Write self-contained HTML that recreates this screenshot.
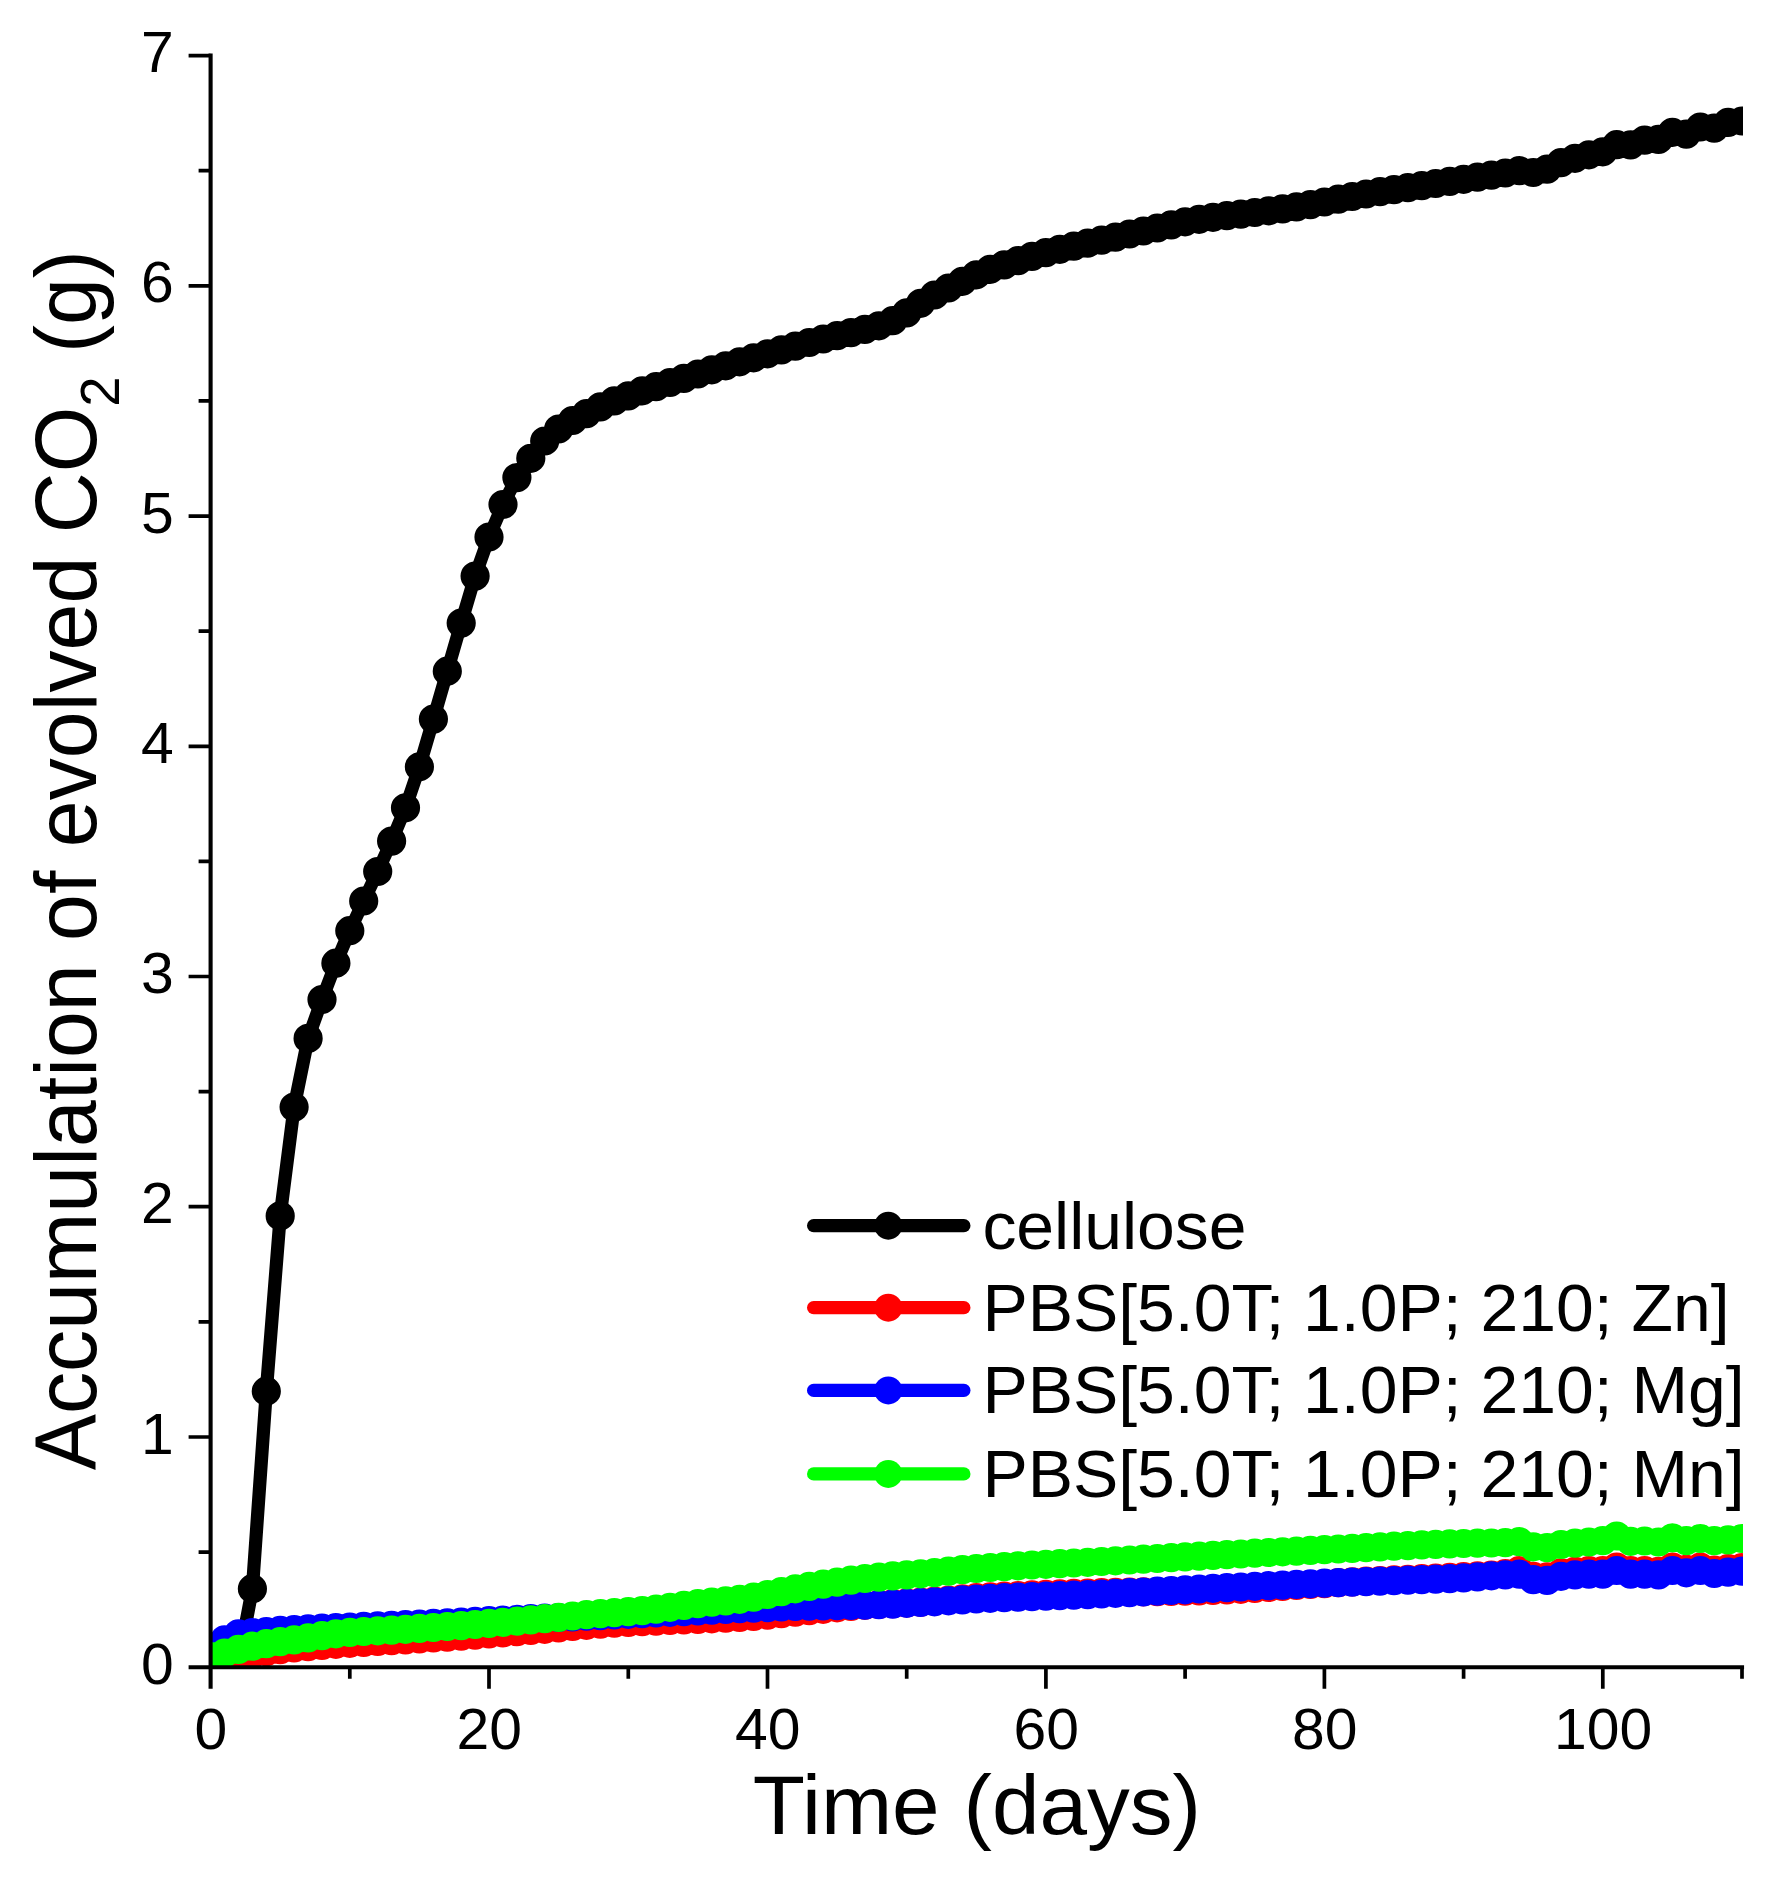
<!DOCTYPE html>
<html><head><meta charset="utf-8"><title>Accumulation of evolved CO2</title>
<style>
html,body{margin:0;padding:0;background:#fff;}
body{width:1773px;height:1896px;overflow:hidden;}
svg{display:block;font-family:"Liberation Sans",Arial,sans-serif;fill:#000;}
.tick{font-size:57.3px;}
.title{font-size:83.5px;}
.ytitle{font-size:84.3px;}
.leg{font-size:66.5px;}
</style></head><body>
<svg width="1773" height="1896" viewBox="0 0 1773 1896">
<rect width="1773" height="1896" fill="#fff"/>
<defs><clipPath id="clip"><rect x="210.6" y="40" width="1532.4" height="1627.2"/></clipPath></defs>
<g clip-path="url(#clip)">
<path d="M210.6 1667.2 L224.5 1667.2 L238.4 1662.6 L252.4 1588.7 L266.3 1391.2 L280.2 1215.9 L294.1 1107.1 L308.1 1038.4 L322.0 999.5 L335.9 963.2 L349.8 930.7 L363.7 901.0 L377.7 871.5 L391.6 841.1 L405.5 807.8 L419.4 766.8 L433.4 719.1 L447.3 671.2 L461.2 623.1 L475.1 576.1 L489.0 537.0 L503.0 504.5 L516.9 477.6 L530.8 458.3 L544.7 441.0 L558.6 429.0 L572.6 420.5 L586.5 413.6 L600.4 406.9 L614.3 400.9 L628.3 395.9 L642.2 390.8 L656.1 386.7 L670.0 382.5 L683.9 378.4 L697.9 374.0 L711.8 369.8 L725.7 365.8 L739.6 361.8 L753.6 357.8 L767.5 353.8 L781.4 349.9 L795.3 346.2 L809.2 342.5 L823.2 339.0 L837.1 335.6 L851.0 332.6 L864.9 329.4 L878.9 325.8 L892.8 320.7 L906.7 312.9 L920.6 303.3 L934.5 295.0 L948.5 288.0 L962.4 281.3 L976.3 274.8 L990.2 269.3 L1004.2 264.9 L1018.1 260.6 L1032.0 256.4 L1045.9 252.6 L1059.8 249.3 L1073.8 246.1 L1087.7 243.1 L1101.6 240.2 L1115.5 237.1 L1129.5 234.0 L1143.4 231.0 L1157.3 228.0 L1171.2 224.9 L1185.1 221.8 L1199.1 219.3 L1213.0 217.3 L1226.9 215.7 L1240.8 214.2 L1254.8 212.5 L1268.7 210.8 L1282.6 208.9 L1296.5 206.9 L1310.4 204.6 L1324.4 202.0 L1338.3 199.2 L1352.2 196.5 L1366.1 194.0 L1380.0 191.7 L1394.0 189.6 L1407.9 187.6 L1421.8 185.6 L1435.7 183.5 L1449.7 181.4 L1463.6 179.3 L1477.5 177.2 L1491.4 175.1 L1505.3 173.0 L1519.3 170.7 L1533.2 172.5 L1547.1 169.1 L1561.0 162.6 L1575.0 158.3 L1588.9 154.8 L1602.8 151.8 L1616.7 144.7 L1630.6 144.9 L1644.6 140.1 L1658.5 139.4 L1672.4 132.3 L1686.3 134.1 L1700.3 127.0 L1714.2 128.1 L1728.1 122.4 L1742.0 121.0" fill="none" stroke="#000" stroke-width="13.2" stroke-linejoin="round" stroke-linecap="round"/>
<path d="M210.6 1667.2h0M224.5 1667.2h0M238.4 1662.6h0M252.4 1588.7h0M266.3 1391.2h0M280.2 1215.9h0M294.1 1107.1h0M308.1 1038.4h0M322.0 999.5h0M335.9 963.2h0M349.8 930.7h0M363.7 901.0h0M377.7 871.5h0M391.6 841.1h0M405.5 807.8h0M419.4 766.8h0M433.4 719.1h0M447.3 671.2h0M461.2 623.1h0M475.1 576.1h0M489.0 537.0h0M503.0 504.5h0M516.9 477.6h0M530.8 458.3h0M544.7 441.0h0M558.6 429.0h0M572.6 420.5h0M586.5 413.6h0M600.4 406.9h0M614.3 400.9h0M628.3 395.9h0M642.2 390.8h0M656.1 386.7h0M670.0 382.5h0M683.9 378.4h0M697.9 374.0h0M711.8 369.8h0M725.7 365.8h0M739.6 361.8h0M753.6 357.8h0M767.5 353.8h0M781.4 349.9h0M795.3 346.2h0M809.2 342.5h0M823.2 339.0h0M837.1 335.6h0M851.0 332.6h0M864.9 329.4h0M878.9 325.8h0M892.8 320.7h0M906.7 312.9h0M920.6 303.3h0M934.5 295.0h0M948.5 288.0h0M962.4 281.3h0M976.3 274.8h0M990.2 269.3h0M1004.2 264.9h0M1018.1 260.6h0M1032.0 256.4h0M1045.9 252.6h0M1059.8 249.3h0M1073.8 246.1h0M1087.7 243.1h0M1101.6 240.2h0M1115.5 237.1h0M1129.5 234.0h0M1143.4 231.0h0M1157.3 228.0h0M1171.2 224.9h0M1185.1 221.8h0M1199.1 219.3h0M1213.0 217.3h0M1226.9 215.7h0M1240.8 214.2h0M1254.8 212.5h0M1268.7 210.8h0M1282.6 208.9h0M1296.5 206.9h0M1310.4 204.6h0M1324.4 202.0h0M1338.3 199.2h0M1352.2 196.5h0M1366.1 194.0h0M1380.0 191.7h0M1394.0 189.6h0M1407.9 187.6h0M1421.8 185.6h0M1435.7 183.5h0M1449.7 181.4h0M1463.6 179.3h0M1477.5 177.2h0M1491.4 175.1h0M1505.3 173.0h0M1519.3 170.7h0M1533.2 172.5h0M1547.1 169.1h0M1561.0 162.6h0M1575.0 158.3h0M1588.9 154.8h0M1602.8 151.8h0M1616.7 144.7h0M1630.6 144.9h0M1644.6 140.1h0M1658.5 139.4h0M1672.4 132.3h0M1686.3 134.1h0M1700.3 127.0h0M1714.2 128.1h0M1728.1 122.4h0M1742.0 121.0h0" fill="none" stroke="#000" stroke-width="29.2" stroke-linecap="round"/>
<path d="M210.6 1667.2 L224.5 1661.8 L238.4 1657.5 L252.4 1654.2 L266.3 1651.7 L280.2 1649.7 L294.1 1648.0 L308.1 1646.6 L322.0 1645.4 L335.9 1644.3 L349.8 1643.3 L363.7 1642.4 L377.7 1641.5 L391.6 1640.7 L405.5 1639.9 L419.4 1639.0 L433.4 1638.0 L447.3 1637.1 L461.2 1636.1 L475.1 1635.1 L489.0 1634.0 L503.0 1632.9 L516.9 1631.7 L530.8 1630.5 L544.7 1629.3 L558.6 1627.9 L572.6 1626.5 L586.5 1625.3 L600.4 1624.1 L614.3 1623.2 L628.3 1622.5 L642.2 1621.7 L656.1 1621.1 L670.0 1620.5 L683.9 1620.0 L697.9 1619.4 L711.8 1618.8 L725.7 1618.2 L739.6 1617.5 L753.6 1616.5 L767.5 1615.1 L781.4 1613.6 L795.3 1612.1 L809.2 1610.7 L823.2 1609.3 L837.1 1607.8 L851.0 1606.5 L864.9 1605.3 L878.9 1604.4 L892.8 1603.6 L906.7 1602.9 L920.6 1602.1 L934.5 1601.2 L948.5 1600.0 L962.4 1598.8 L976.3 1597.7 L990.2 1596.9 L1004.2 1596.2 L1018.1 1595.5 L1032.0 1594.9 L1045.9 1594.4 L1059.8 1593.9 L1073.8 1593.4 L1087.7 1593.0 L1101.6 1592.6 L1115.5 1592.3 L1129.5 1592.0 L1143.4 1591.8 L1157.3 1591.6 L1171.2 1591.4 L1185.1 1591.1 L1199.1 1590.9 L1213.0 1590.5 L1226.9 1590.0 L1240.8 1589.3 L1254.8 1588.5 L1268.7 1587.5 L1282.6 1586.4 L1296.5 1585.5 L1310.4 1584.5 L1324.4 1583.6 L1338.3 1582.7 L1352.2 1581.9 L1366.1 1581.2 L1380.0 1580.5 L1394.0 1579.9 L1407.9 1579.3 L1421.8 1578.7 L1435.7 1578.0 L1449.7 1577.3 L1463.6 1576.5 L1477.5 1575.8 L1491.4 1575.0 L1505.3 1573.7 L1519.3 1570.7 L1533.2 1576.3 L1547.1 1576.9 L1561.0 1572.8 L1575.0 1571.4 L1588.9 1570.7 L1602.8 1570.7 L1616.7 1567.0 L1630.6 1570.7 L1644.6 1570.7 L1658.5 1571.4 L1672.4 1567.0 L1686.3 1569.4 L1700.3 1567.0 L1714.2 1570.0 L1728.1 1568.7 L1742.0 1567.7" fill="none" stroke="#f00" stroke-width="13.2" stroke-linejoin="round" stroke-linecap="round"/>
<path d="M210.6 1667.2h0M224.5 1661.8h0M238.4 1657.5h0M252.4 1654.2h0M266.3 1651.7h0M280.2 1649.7h0M294.1 1648.0h0M308.1 1646.6h0M322.0 1645.4h0M335.9 1644.3h0M349.8 1643.3h0M363.7 1642.4h0M377.7 1641.5h0M391.6 1640.7h0M405.5 1639.9h0M419.4 1639.0h0M433.4 1638.0h0M447.3 1637.1h0M461.2 1636.1h0M475.1 1635.1h0M489.0 1634.0h0M503.0 1632.9h0M516.9 1631.7h0M530.8 1630.5h0M544.7 1629.3h0M558.6 1627.9h0M572.6 1626.5h0M586.5 1625.3h0M600.4 1624.1h0M614.3 1623.2h0M628.3 1622.5h0M642.2 1621.7h0M656.1 1621.1h0M670.0 1620.5h0M683.9 1620.0h0M697.9 1619.4h0M711.8 1618.8h0M725.7 1618.2h0M739.6 1617.5h0M753.6 1616.5h0M767.5 1615.1h0M781.4 1613.6h0M795.3 1612.1h0M809.2 1610.7h0M823.2 1609.3h0M837.1 1607.8h0M851.0 1606.5h0M864.9 1605.3h0M878.9 1604.4h0M892.8 1603.6h0M906.7 1602.9h0M920.6 1602.1h0M934.5 1601.2h0M948.5 1600.0h0M962.4 1598.8h0M976.3 1597.7h0M990.2 1596.9h0M1004.2 1596.2h0M1018.1 1595.5h0M1032.0 1594.9h0M1045.9 1594.4h0M1059.8 1593.9h0M1073.8 1593.4h0M1087.7 1593.0h0M1101.6 1592.6h0M1115.5 1592.3h0M1129.5 1592.0h0M1143.4 1591.8h0M1157.3 1591.6h0M1171.2 1591.4h0M1185.1 1591.1h0M1199.1 1590.9h0M1213.0 1590.5h0M1226.9 1590.0h0M1240.8 1589.3h0M1254.8 1588.5h0M1268.7 1587.5h0M1282.6 1586.4h0M1296.5 1585.5h0M1310.4 1584.5h0M1324.4 1583.6h0M1338.3 1582.7h0M1352.2 1581.9h0M1366.1 1581.2h0M1380.0 1580.5h0M1394.0 1579.9h0M1407.9 1579.3h0M1421.8 1578.7h0M1435.7 1578.0h0M1449.7 1577.3h0M1463.6 1576.5h0M1477.5 1575.8h0M1491.4 1575.0h0M1505.3 1573.7h0M1519.3 1570.7h0M1533.2 1576.3h0M1547.1 1576.9h0M1561.0 1572.8h0M1575.0 1571.4h0M1588.9 1570.7h0M1602.8 1570.7h0M1616.7 1567.0h0M1630.6 1570.7h0M1644.6 1570.7h0M1658.5 1571.4h0M1672.4 1567.0h0M1686.3 1569.4h0M1700.3 1567.0h0M1714.2 1570.0h0M1728.1 1568.7h0M1742.0 1567.7h0" fill="none" stroke="#f00" stroke-width="29.2" stroke-linecap="round"/>
<path d="M210.6 1647.6 L224.5 1639.8 L238.4 1633.8 L252.4 1632.6 L266.3 1631.6 L280.2 1630.4 L294.1 1629.5 L308.1 1628.8 L322.0 1628.2 L335.9 1627.6 L349.8 1627.0 L363.7 1626.4 L377.7 1625.9 L391.6 1625.3 L405.5 1624.7 L419.4 1624.1 L433.4 1623.4 L447.3 1622.8 L461.2 1622.1 L475.1 1621.4 L489.0 1620.7 L503.0 1620.1 L516.9 1619.4 L530.8 1618.7 L544.7 1618.1 L558.6 1617.5 L572.6 1616.9 L586.5 1616.2 L600.4 1615.6 L614.3 1615.0 L628.3 1614.3 L642.2 1613.7 L656.1 1613.0 L670.0 1612.3 L683.9 1611.6 L697.9 1610.9 L711.8 1610.2 L725.7 1609.4 L739.6 1608.7 L753.6 1608.1 L767.5 1607.6 L781.4 1607.0 L795.3 1606.5 L809.2 1606.2 L823.2 1605.9 L837.1 1605.6 L851.0 1605.4 L864.9 1605.1 L878.9 1604.7 L892.8 1604.1 L906.7 1603.3 L920.6 1602.5 L934.5 1601.8 L948.5 1600.8 L962.4 1599.9 L976.3 1599.0 L990.2 1598.3 L1004.2 1597.7 L1018.1 1597.2 L1032.0 1596.6 L1045.9 1596.1 L1059.8 1595.6 L1073.8 1595.1 L1087.7 1594.6 L1101.6 1594.0 L1115.5 1593.3 L1129.5 1592.7 L1143.4 1592.0 L1157.3 1591.2 L1171.2 1590.5 L1185.1 1589.8 L1199.1 1589.0 L1213.0 1588.3 L1226.9 1587.7 L1240.8 1587.0 L1254.8 1586.3 L1268.7 1585.7 L1282.6 1585.1 L1296.5 1584.4 L1310.4 1583.8 L1324.4 1583.2 L1338.3 1582.6 L1352.2 1582.1 L1366.1 1581.6 L1380.0 1581.1 L1394.0 1580.7 L1407.9 1580.2 L1421.8 1579.7 L1435.7 1579.2 L1449.7 1578.6 L1463.6 1577.9 L1477.5 1576.9 L1491.4 1575.8 L1505.3 1574.9 L1519.3 1574.2 L1533.2 1579.7 L1547.1 1580.4 L1561.0 1576.3 L1575.0 1574.9 L1588.9 1574.2 L1602.8 1574.2 L1616.7 1570.5 L1630.6 1574.2 L1644.6 1574.2 L1658.5 1574.9 L1672.4 1570.5 L1686.3 1572.8 L1700.3 1570.5 L1714.2 1573.5 L1728.1 1572.1 L1742.0 1571.2" fill="none" stroke="#00f" stroke-width="13.2" stroke-linejoin="round" stroke-linecap="round"/>
<path d="M210.6 1647.6h0M224.5 1639.8h0M238.4 1633.8h0M252.4 1632.6h0M266.3 1631.6h0M280.2 1630.4h0M294.1 1629.5h0M308.1 1628.8h0M322.0 1628.2h0M335.9 1627.6h0M349.8 1627.0h0M363.7 1626.4h0M377.7 1625.9h0M391.6 1625.3h0M405.5 1624.7h0M419.4 1624.1h0M433.4 1623.4h0M447.3 1622.8h0M461.2 1622.1h0M475.1 1621.4h0M489.0 1620.7h0M503.0 1620.1h0M516.9 1619.4h0M530.8 1618.7h0M544.7 1618.1h0M558.6 1617.5h0M572.6 1616.9h0M586.5 1616.2h0M600.4 1615.6h0M614.3 1615.0h0M628.3 1614.3h0M642.2 1613.7h0M656.1 1613.0h0M670.0 1612.3h0M683.9 1611.6h0M697.9 1610.9h0M711.8 1610.2h0M725.7 1609.4h0M739.6 1608.7h0M753.6 1608.1h0M767.5 1607.6h0M781.4 1607.0h0M795.3 1606.5h0M809.2 1606.2h0M823.2 1605.9h0M837.1 1605.6h0M851.0 1605.4h0M864.9 1605.1h0M878.9 1604.7h0M892.8 1604.1h0M906.7 1603.3h0M920.6 1602.5h0M934.5 1601.8h0M948.5 1600.8h0M962.4 1599.9h0M976.3 1599.0h0M990.2 1598.3h0M1004.2 1597.7h0M1018.1 1597.2h0M1032.0 1596.6h0M1045.9 1596.1h0M1059.8 1595.6h0M1073.8 1595.1h0M1087.7 1594.6h0M1101.6 1594.0h0M1115.5 1593.3h0M1129.5 1592.7h0M1143.4 1592.0h0M1157.3 1591.2h0M1171.2 1590.5h0M1185.1 1589.8h0M1199.1 1589.0h0M1213.0 1588.3h0M1226.9 1587.7h0M1240.8 1587.0h0M1254.8 1586.3h0M1268.7 1585.7h0M1282.6 1585.1h0M1296.5 1584.4h0M1310.4 1583.8h0M1324.4 1583.2h0M1338.3 1582.6h0M1352.2 1582.1h0M1366.1 1581.6h0M1380.0 1581.1h0M1394.0 1580.7h0M1407.9 1580.2h0M1421.8 1579.7h0M1435.7 1579.2h0M1449.7 1578.6h0M1463.6 1577.9h0M1477.5 1576.9h0M1491.4 1575.8h0M1505.3 1574.9h0M1519.3 1574.2h0M1533.2 1579.7h0M1547.1 1580.4h0M1561.0 1576.3h0M1575.0 1574.9h0M1588.9 1574.2h0M1602.8 1574.2h0M1616.7 1570.5h0M1630.6 1574.2h0M1644.6 1574.2h0M1658.5 1574.9h0M1672.4 1570.5h0M1686.3 1572.8h0M1700.3 1570.5h0M1714.2 1573.5h0M1728.1 1572.1h0M1742.0 1571.2h0" fill="none" stroke="#00f" stroke-width="29.2" stroke-linecap="round"/>
<path d="M210.6 1656.6 L224.5 1653.2 L238.4 1649.4 L252.4 1646.2 L266.3 1643.7 L280.2 1641.7 L294.1 1639.9 L308.1 1637.9 L322.0 1635.7 L335.9 1633.8 L349.8 1632.4 L363.7 1631.5 L377.7 1630.8 L391.6 1630.1 L405.5 1629.3 L419.4 1628.4 L433.4 1627.5 L447.3 1626.5 L461.2 1625.6 L475.1 1624.5 L489.0 1623.4 L503.0 1622.3 L516.9 1621.1 L530.8 1619.9 L544.7 1618.7 L558.6 1617.4 L572.6 1616.0 L586.5 1614.7 L600.4 1613.6 L614.3 1612.6 L628.3 1611.7 L642.2 1610.6 L656.1 1609.1 L670.0 1607.3 L683.9 1605.4 L697.9 1603.7 L711.8 1602.2 L725.7 1600.9 L739.6 1599.3 L753.6 1597.2 L767.5 1594.5 L781.4 1591.7 L795.3 1588.8 L809.2 1586.4 L823.2 1584.2 L837.1 1582.1 L851.0 1580.2 L864.9 1578.5 L878.9 1577.1 L892.8 1575.9 L906.7 1574.9 L920.6 1573.8 L934.5 1572.6 L948.5 1571.2 L962.4 1569.7 L976.3 1568.5 L990.2 1567.5 L1004.2 1566.6 L1018.1 1565.8 L1032.0 1565.0 L1045.9 1564.3 L1059.8 1563.6 L1073.8 1563.0 L1087.7 1562.3 L1101.6 1561.5 L1115.5 1560.8 L1129.5 1560.0 L1143.4 1559.2 L1157.3 1558.5 L1171.2 1557.7 L1185.1 1556.9 L1199.1 1556.2 L1213.0 1555.4 L1226.9 1554.7 L1240.8 1554.0 L1254.8 1553.2 L1268.7 1552.5 L1282.6 1551.8 L1296.5 1551.1 L1310.4 1550.4 L1324.4 1549.7 L1338.3 1549.0 L1352.2 1548.4 L1366.1 1547.7 L1380.0 1546.9 L1394.0 1546.2 L1407.9 1545.6 L1421.8 1544.9 L1435.7 1544.4 L1449.7 1543.9 L1463.6 1543.5 L1477.5 1543.2 L1491.4 1543.0 L1505.3 1542.6 L1519.3 1541.7 L1533.2 1546.8 L1547.1 1547.7 L1561.0 1544.5 L1575.0 1543.1 L1588.9 1542.0 L1602.8 1540.6 L1616.7 1536.0 L1630.6 1541.3 L1644.6 1541.0 L1658.5 1542.0 L1672.4 1537.8 L1686.3 1540.6 L1700.3 1538.5 L1714.2 1540.6 L1728.1 1539.9 L1742.0 1538.5" fill="none" stroke="#0f0" stroke-width="13.2" stroke-linejoin="round" stroke-linecap="round"/>
<path d="M210.6 1656.6h0M224.5 1653.2h0M238.4 1649.4h0M252.4 1646.2h0M266.3 1643.7h0M280.2 1641.7h0M294.1 1639.9h0M308.1 1637.9h0M322.0 1635.7h0M335.9 1633.8h0M349.8 1632.4h0M363.7 1631.5h0M377.7 1630.8h0M391.6 1630.1h0M405.5 1629.3h0M419.4 1628.4h0M433.4 1627.5h0M447.3 1626.5h0M461.2 1625.6h0M475.1 1624.5h0M489.0 1623.4h0M503.0 1622.3h0M516.9 1621.1h0M530.8 1619.9h0M544.7 1618.7h0M558.6 1617.4h0M572.6 1616.0h0M586.5 1614.7h0M600.4 1613.6h0M614.3 1612.6h0M628.3 1611.7h0M642.2 1610.6h0M656.1 1609.1h0M670.0 1607.3h0M683.9 1605.4h0M697.9 1603.7h0M711.8 1602.2h0M725.7 1600.9h0M739.6 1599.3h0M753.6 1597.2h0M767.5 1594.5h0M781.4 1591.7h0M795.3 1588.8h0M809.2 1586.4h0M823.2 1584.2h0M837.1 1582.1h0M851.0 1580.2h0M864.9 1578.5h0M878.9 1577.1h0M892.8 1575.9h0M906.7 1574.9h0M920.6 1573.8h0M934.5 1572.6h0M948.5 1571.2h0M962.4 1569.7h0M976.3 1568.5h0M990.2 1567.5h0M1004.2 1566.6h0M1018.1 1565.8h0M1032.0 1565.0h0M1045.9 1564.3h0M1059.8 1563.6h0M1073.8 1563.0h0M1087.7 1562.3h0M1101.6 1561.5h0M1115.5 1560.8h0M1129.5 1560.0h0M1143.4 1559.2h0M1157.3 1558.5h0M1171.2 1557.7h0M1185.1 1556.9h0M1199.1 1556.2h0M1213.0 1555.4h0M1226.9 1554.7h0M1240.8 1554.0h0M1254.8 1553.2h0M1268.7 1552.5h0M1282.6 1551.8h0M1296.5 1551.1h0M1310.4 1550.4h0M1324.4 1549.7h0M1338.3 1549.0h0M1352.2 1548.4h0M1366.1 1547.7h0M1380.0 1546.9h0M1394.0 1546.2h0M1407.9 1545.6h0M1421.8 1544.9h0M1435.7 1544.4h0M1449.7 1543.9h0M1463.6 1543.5h0M1477.5 1543.2h0M1491.4 1543.0h0M1505.3 1542.6h0M1519.3 1541.7h0M1533.2 1546.8h0M1547.1 1547.7h0M1561.0 1544.5h0M1575.0 1543.1h0M1588.9 1542.0h0M1602.8 1540.6h0M1616.7 1536.0h0M1630.6 1541.3h0M1644.6 1541.0h0M1658.5 1542.0h0M1672.4 1537.8h0M1686.3 1540.6h0M1700.3 1538.5h0M1714.2 1540.6h0M1728.1 1539.9h0M1742.0 1538.5h0" fill="none" stroke="#0f0" stroke-width="29.2" stroke-linecap="round"/>
</g>
<g stroke="#000" stroke-width="4.1" fill="none">
<path d="M210.6 53.54000000000015 V1688.7"/>
<path d="M188.6 1667.2 H1744.07"/>
<path d="M198.6 1552.1H210.6M188.6 1437.0H210.6M198.6 1321.9H210.6M188.6 1206.7H210.6M198.6 1091.6H210.6M188.6 976.5H210.6M198.6 861.4H210.6M188.6 746.3H210.6M198.6 631.2H210.6M188.6 516.1H210.6M198.6 400.9H210.6M188.6 285.8H210.6M198.6 170.7H210.6M188.6 55.6H210.6M349.8 1667.2V1678.7M489.0 1667.2V1688.7M628.3 1667.2V1678.7M767.5 1667.2V1688.7M906.7 1667.2V1678.7M1045.9 1667.2V1688.7M1185.1 1667.2V1678.7M1324.4 1667.2V1688.7M1463.6 1667.2V1678.7M1602.8 1667.2V1688.7M1742.0 1667.2V1678.7" stroke-width="3.7"/>
</g>
<text class="tick" transform="translate(173.6,1683.7) scale(1.027,1)" text-anchor="end">0</text>
<text class="tick" transform="translate(173.6,1453.5) scale(1.027,1)" text-anchor="end">1</text>
<text class="tick" transform="translate(173.6,1223.2) scale(1.027,1)" text-anchor="end">2</text>
<text class="tick" transform="translate(173.6,993.0) scale(1.027,1)" text-anchor="end">3</text>
<text class="tick" transform="translate(173.6,762.8) scale(1.027,1)" text-anchor="end">4</text>
<text class="tick" transform="translate(173.6,532.6) scale(1.027,1)" text-anchor="end">5</text>
<text class="tick" transform="translate(173.6,302.3) scale(1.027,1)" text-anchor="end">6</text>
<text class="tick" transform="translate(173.6,72.1) scale(1.027,1)" text-anchor="end">7</text>
<text class="tick" transform="translate(210.9,1748.8) scale(1.027,1)" text-anchor="middle">0</text>
<text class="tick" transform="translate(489.3,1748.8) scale(1.027,1)" text-anchor="middle">20</text>
<text class="tick" transform="translate(767.8,1748.8) scale(1.027,1)" text-anchor="middle">40</text>
<text class="tick" transform="translate(1046.2,1748.8) scale(1.027,1)" text-anchor="middle">60</text>
<text class="tick" transform="translate(1324.7,1748.8) scale(1.027,1)" text-anchor="middle">80</text>
<text class="tick" transform="translate(1603.1,1748.8) scale(1.027,1)" text-anchor="middle">100</text>
<text class="title" transform="translate(976.9,1834.3) scale(1.024,1)" text-anchor="middle">Time (days)</text>
<text class="ytitle" transform="translate(96.2,860.2) rotate(-90) scale(1,1.027)" text-anchor="middle">Accumulation of evolved CO<tspan font-size="54.5" dy="21.8">2</tspan><tspan dy="-21.8"> (g)</tspan></text>
<path d="M813.6 1225.7H963.9" stroke="#000" stroke-width="13.2" stroke-linecap="round"/><circle cx="888.3" cy="1225.7" r="14" fill="#000"/>
<text class="leg" transform="translate(982.4,1248.7) scale(1.021,1)" text-anchor="start">cellulose</text>
<path d="M813.6 1307.7H963.9" stroke="#f00" stroke-width="13.2" stroke-linecap="round"/><circle cx="888.3" cy="1307.7" r="14" fill="#f00"/>
<text class="leg" transform="translate(982.4,1330.7) scale(1.021,1)" text-anchor="start">PBS[5.0T; 1.0P; 210; Zn]</text>
<path d="M813.6 1390.4H963.9" stroke="#00f" stroke-width="13.2" stroke-linecap="round"/><circle cx="888.3" cy="1390.4" r="14" fill="#00f"/>
<text class="leg" transform="translate(982.4,1413.4) scale(1.021,1)" text-anchor="start">PBS[5.0T; 1.0P; 210; Mg]</text>
<path d="M813.6 1473.9H963.9" stroke="#0f0" stroke-width="13.2" stroke-linecap="round"/><circle cx="888.3" cy="1473.9" r="14" fill="#0f0"/>
<text class="leg" transform="translate(982.4,1496.9) scale(1.021,1)" text-anchor="start">PBS[5.0T; 1.0P; 210; Mn]</text>
</svg></body></html>
